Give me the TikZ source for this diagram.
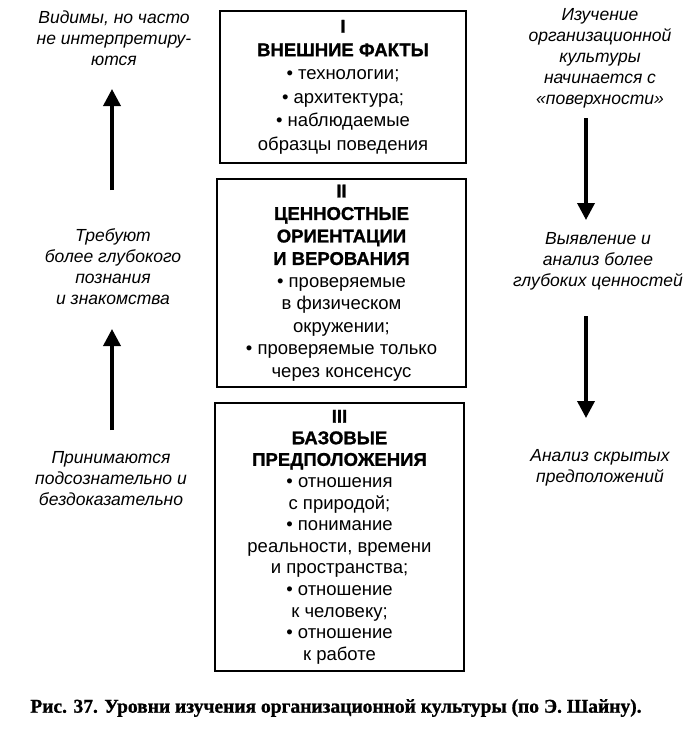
\documentclass[tikz,border=0pt]{standalone}
\usepackage{fontspec}
\setmainfont{Liberation Sans}[BoldFeatures={FakeBold=1.2}]
\newfontfamily\capfont{Liberation Serif}[BoldFeatures={FakeBold=1}]
\usetikzlibrary{arrows.meta}
\begin{document}
\begin{tikzpicture}[x=1pt,y=-1pt,
  levelbox/.style={draw,line width=2.8pt,align=center,inner sep=0pt},
  sidetext/.style={align=center,font=\fontsize{17.5}{21}\selectfont\itshape},
  levelarrow/.style={line width=3.6pt,-{Triangle[width=17pt,length=17pt]}}]
\useasboundingbox (0,0) rectangle (686,732);
\node[levelbox,minimum width=246pt,minimum height=152pt,font=\fontsize{18.5}{23.5}\selectfont] (b1) at (343,87)
  {\textbf{I}\\\textbf{ВНЕШНИЕ ФАКТЫ}\\• технологии;\\• архитектура;\\• наблюдаемые\\образцы поведения};
\node[levelbox,minimum width=249pt,minimum height=208pt,font=\fontsize{18.5}{22.5}\selectfont] (b2) at (341.5,283)
  {\textbf{II}\\\textbf{ЦЕННОСТНЫЕ}\\\textbf{ОРИЕНТАЦИИ}\\\textbf{И ВЕРОВАНИЯ}\\• проверяемые\\в физическом\\окружении;\\• проверяемые только\\через консенсус};
\node[levelbox,minimum width=249pt,minimum height=268pt,font=\fontsize{18.5}{21.6}\selectfont] (b3) at (339.5,537)
  {\textbf{III}\\\textbf{БАЗОВЫЕ}\\\textbf{ПРЕДПОЛОЖЕНИЯ}\\• отношения\\с природой;\\• понимание\\реальности, времени\\и пространства;\\• отношение\\к человеку;\\• отношение\\к работе};
\node[sidetext] (l1) at (114,38) {Видимы, но часто\\не интерпретиру-\\ются};
\node[sidetext] (l2) at (113,267) {Требуют\\более глубокого\\познания\\и знакомства};
\node[sidetext] (l3) at (111,479) {Принимаются\\подсознательно и\\бездоказательно};
\node[sidetext] (r1) at (600,58) {Изучение\\организационной\\культуры\\начинается с\\«поверхности»};
\node[sidetext] (r2) at (598,261) {Выявление и\\анализ более\\глубоких ценностей};
\node[sidetext] (r3) at (600,468) {Анализ скрытых\\предположений};
\coordinate (la1) at (112,190); \coordinate (la1tip) at (112,89);
\coordinate (la2) at (112,430); \coordinate (la2tip) at (112,329);
\coordinate (ra1) at (586,118); \coordinate (ra1tip) at (586,220);
\coordinate (ra2) at (586,316); \coordinate (ra2tip) at (586,418);
\draw[levelarrow] (la1) -- (la1tip);
\draw[levelarrow] (la2) -- (la2tip);
\draw[levelarrow] (ra1) -- (ra1tip);
\draw[levelarrow] (ra2) -- (ra2tip);
\node[font=\capfont\bfseries\fontsize{19.5}{21}\selectfont] (cap) at (336,708)
  {Рис. 37. Уровни изучения организационной культуры (по Э. Шайну).};
\end{tikzpicture}
\end{document}
